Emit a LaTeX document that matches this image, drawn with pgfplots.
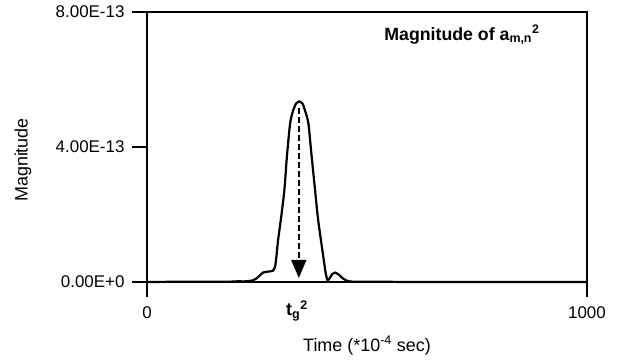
\documentclass[border=0pt]{standalone}
\usepackage{fontspec}
\setmainfont{Liberation Sans}
\usepackage{pgfplots}
\pgfplotsset{compat=1.18}
\usetikzlibrary{arrows.meta}
\begin{document}
\begin{tikzpicture}
\begin{axis}[name=ax, scale only axis, width=440bp, height=270bp,
  xmin=0, xmax=1000, ymin=0, ymax=8,
  xtick={0,1000}, ytick={0,4,8},
  yticklabels={0.00E+0,4.00E-13,8.00E-13},
  /pgf/number format/set thousands separator={},
  tick align=outside, tick pos=left, major tick length=15bp,
  axis line style={line width=1.6bp},
  every tick/.style={black, line width=1.6bp},
  ticklabel style={font=\fontsize{17}{20}\selectfont},
  /pgf/number format/assume math mode=true,
  xticklabel style={yshift=-6bp},
  yticklabel style={xshift=-4bp},
  xlabel={Time (*10\textsuperscript{-4} sec)},
  ylabel={Magnitude},
  label style={font=\fontsize{18}{21}\selectfont},
  xlabel style={at={(axis description cs:0.5,-0.235)}, anchor=center},
  ylabel style={at={(axis description cs:-0.282,0.452)}, anchor=center},
  clip=false]
\addplot[black, line width=2.2bp, smooth, tension=0.4] coordinates {
(0,0) (103,0.01) (185,0.01) (205,0.02) (225,0.02) (241,0.05) (248,0.1) (255.5,0.18)
(263.6,0.28) (275.7,0.31) (285.8,0.33) (291,0.45) (294,0.74) (298,1.25) (305,1.93)
(312.2,2.72) (318.2,3.76) (325.3,4.7) (331.4,5.05) (338.5,5.28) (346,5.35) (353.7,5.28)
(359.8,5.05) (366.8,4.7) (373.9,3.76) (382,2.72) (388.1,1.93) (395.2,1.25) (402.3,0.6)
(406.3,0.25) (410.4,0.05) (415.5,0.12) (421.5,0.24) (427.6,0.28) (435.7,0.22) (443.8,0.12)
(454,0.04) (468,0.01) (529,0.01) (610,0) (1000,0)
};
\draw[black, line width=1.8bp, dash pattern=on 6bp off 3bp,
  -{Triangle[length=18bp,width=15bp]}] (axis cs:345,5.15) -- (axis cs:345,0.12);
\node[font=\bfseries\fontsize{17.8}{20}\selectfont, anchor=east]
  at (rel axis cs:0.9,0.915) {Magnitude of a\textsubscript{m,n}\textsuperscript{2}};
\node[font=\bfseries\fontsize{18}{21}\selectfont, yshift=-29bp]
  at (axis cs:341,0) {t\textsubscript{g}\textsuperscript{2}};
\end{axis}
\pgfresetboundingbox
\path ([shift={(-147bp,-79bp)}]ax.south west) rectangle ([shift={(33bp,12bp)}]ax.north east);
\end{tikzpicture}
\end{document}
